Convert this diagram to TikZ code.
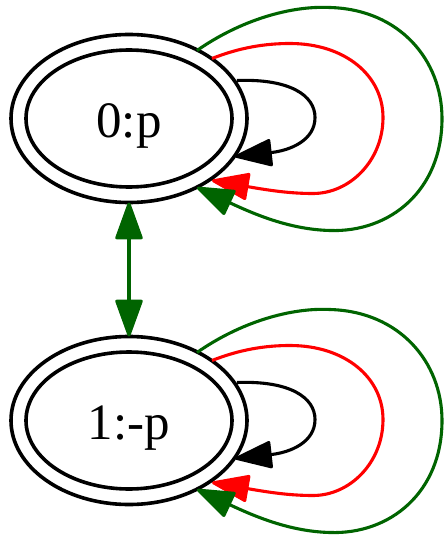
\documentclass[tikz,border=0pt]{standalone}
\usepackage{fontspec}
\setmainfont{Liberation Serif}
\usetikzlibrary{arrows.meta,shapes.geometric}
\definecolor{dgreen}{HTML}{006400}
\definecolor{myred}{HTML}{FF0000}
\tikzset{
  tipshape/.tip={Triangle[length=40pt,width=28pt,round]},
  outerring/.style={ellipse,draw,line width=3.6pt,minimum width=236pt,minimum height=168pt,inner sep=0pt,outer sep=0pt},
  innerring/.style={ellipse,draw,line width=3.6pt,minimum width=206pt,minimum height=137pt,inner sep=0pt,outer sep=0pt},
  statetext/.style={inner sep=0pt,font=\fontsize{51}{60}\selectfont},
  loopedge/.style={line width=3.1pt,-tipshape},
  selfloops/.pic={
    \draw[loopedge,black] (108,-38) .. controls (161,-40) and (186,-23) .. (186,-1)
       .. controls (186,22) and (161,32) .. (106,38);
    \draw[loopedge,myred] (83,-60) .. controls (111,-71) and (136,-75) .. (161,-75)
       .. controls (216,-75) and (254,-43) .. (254,-1)
       .. controls (254,42) and (221,75) .. (184,75)
       .. controls (161,75) and (141,72) .. (83,62);
    \draw[loopedge,dgreen] (68,-68) .. controls (111,-98) and (161,-113) .. (201,-111)
       .. controls (271,-109) and (313,-58) .. (313,0)
       .. controls (313,72) and (261,114) .. (201,112)
       .. controls (161,111) and (126,96) .. (68,69);
  }
}
\begin{document}
\begin{tikzpicture}[x=1pt,y=-1pt]
\useasboundingbox (0,0) rectangle (445,535);
\node[outerring] (n0) at (129,118.5) {};
\node[innerring] (n0in) at (n0.center) {};
\node[statetext] (t0) at (129,126) {0:p};
\node[outerring] (n1) at (129,420.5) {};
\node[innerring] (n1in) at (n1.center) {};
\node[statetext] (t1) at (129,428) {1:-p};
\pic at (n0.center) {selfloops};
\pic at (n1.center) {selfloops};
\draw[line width=3.1pt,dgreen,tipshape-tipshape] (n0.south) -- (n1.north);
\end{tikzpicture}
\end{document}
